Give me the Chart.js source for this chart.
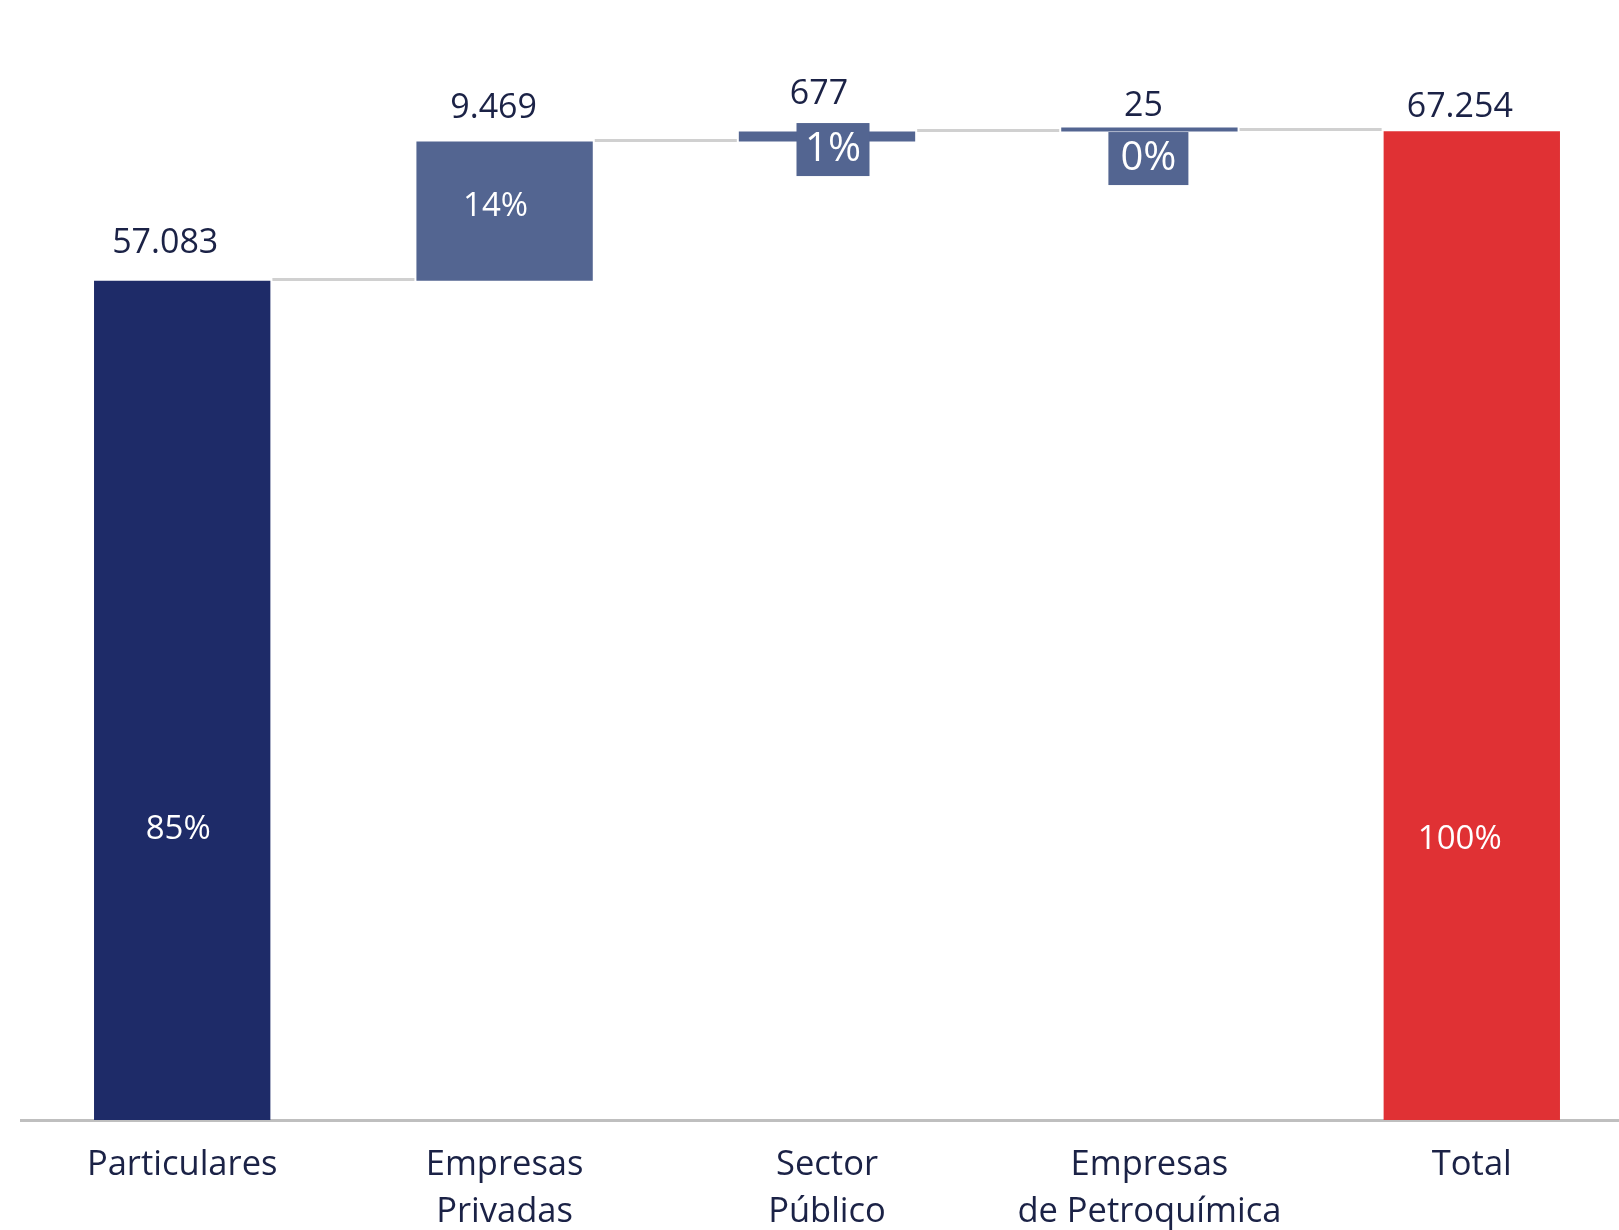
<!DOCTYPE html>
<html>
<head>
<meta charset="utf-8">
<script src="https://cdn.jsdelivr.net/npm/chart.js@4"></script>
<style>
  html, body { margin: 0; padding: 0; background: #ffffff; overflow: hidden; }
  #wrap { position: absolute; left: 0; top: 0; width: 1640px; height: 1230px; }
</style>
</head>
<body>
<div id="wrap"><canvas id="c"></canvas></div>
<script>
// ---- data ----
const categories = [['Particulares'], ['Empresas', 'Privadas'], ['Sector', 'Público'], ['Empresas', 'de Petroquímica'], ['Total']];
const values = [57083, 9469, 677, 25, 67254];
const isTotal = [false, false, false, false, true];
const pctLabels = ['85%', '14%', '1%', '0%', '100%'];

// ---- styles ----
const FONT = "'Open Sans', 'Noto Sans', sans-serif";
const TEXT = '#1b2246';
const barColors = ['#1e2b68', '#536591', '#536591', '#536591', '#e03134'];
const valueDx = [-17, -11, -8, -6, -12];
const valueGap = [28, 24, 28, 12, 14];
// pct label placement: 'frac' = fraction of bar height from base; 'box' = filled box below bar top
const pctStyle = [
  { mode: 'frac', f: 0.346, dx: -4 },
  { mode: 'frac', f: 0.53, dx: -9 },
  { mode: 'box', dy: 18, dx: 6, w: 73, h: 53 },
  { mode: 'box', dy: 31, dx: -1, w: 80, h: 53 },
  { mode: 'frac', f: 0.284, dx: -12 }
];

function fmt(n) { return String(n).replace(/\B(?=(\d{3})+(?!\d))/g, '.'); }

// floating bars built from values
let run = 0;
const floating = values.map((v, i) => {
  if (isTotal[i]) return [0, v];
  const seg = [run, run + v];
  run += v;
  return seg;
});

const waterfallPlugin = {
  id: 'waterfall',
  beforeDatasetsDraw(chart) {
    const ctx = chart.ctx;
    const meta = chart.getDatasetMeta(0);
    const y = chart.scales.y;
    ctx.save();
    ctx.strokeStyle = '#d0d0d0';
    ctx.lineWidth = 3;
    for (let i = 0; i < meta.data.length - 1; i++) {
      const a = meta.data[i], b = meta.data[i + 1];
      const level = floating[i][1];
      const py = Math.round(y.getPixelForValue(level)) - 1.5;
      ctx.beginPath();
      ctx.moveTo(a.x + a.width / 2 + 2, py);
      ctx.lineTo(b.x - b.width / 2 - 2, py);
      ctx.stroke();
    }
    ctx.restore();
  },
  afterDatasetsDraw(chart) {
    const ctx = chart.ctx;
    const meta = chart.getDatasetMeta(0);
    ctx.save();
    meta.data.forEach((el, i) => {
      const top = Math.min(el.y, el.base);
      const bottom = Math.max(el.y, el.base);
      // value label
      ctx.fillStyle = TEXT;
      ctx.font = `34px ${FONT}`;
      ctx.textAlign = 'center';
      ctx.textBaseline = 'alphabetic';
      ctx.fillText(fmt(values[i]), el.x + valueDx[i], top - valueGap[i]);
      // percentage label
      const s = pctStyle[i];
      if (s.mode === 'box') {
        const cx = el.x + s.dx, cy = top + s.dy;
        ctx.fillStyle = barColors[i];
        ctx.fillRect(cx - s.w / 2, cy - s.h / 2, s.w, s.h);
        ctx.fillStyle = '#ffffff';
        ctx.font = `40px ${FONT}`;
        ctx.textBaseline = 'middle';
        ctx.fillText(pctLabels[i], cx, cy);
      } else {
        const cy = bottom - (bottom - top) * s.f;
        ctx.fillStyle = '#ffffff';
        ctx.font = `33px ${FONT}`;
        ctx.textBaseline = 'middle';
        ctx.fillText(pctLabels[i], el.x + s.dx, cy);
      }
    });
    ctx.restore();
  }
};

new Chart(document.getElementById('c'), {
  type: 'bar',
  data: {
    labels: categories,
    datasets: [{
      data: floating,
      backgroundColor: barColors,
      borderWidth: 0,
      barPercentage: 0.547,
      categoryPercentage: 1.0,
      minBarLength: 4
    }]
  },
  options: {
    responsive: true,
    maintainAspectRatio: false,
    animation: false,
    layout: { padding: { left: 21, right: 7, top: 32, bottom: 0 } },
    plugins: { legend: { display: false }, tooltip: { enabled: false } },
    scales: {
      x: {
        grid: { display: false, drawTicks: false },
        border: { display: true, color: '#bfbfbf', width: 3 },
        ticks: {
          color: TEXT,
          font: { family: FONT, size: 34.5, lineHeight: 1.36 },
          padding: 22,
          maxRotation: 0,
          autoSkip: false
        },
        afterFit(scale) { scale.height = 110; }
      },
      y: {
        display: false,
        min: 0,
        max: 74000
      }
    }
  },
  plugins: [waterfallPlugin]
});
</script>
</body>
</html>
